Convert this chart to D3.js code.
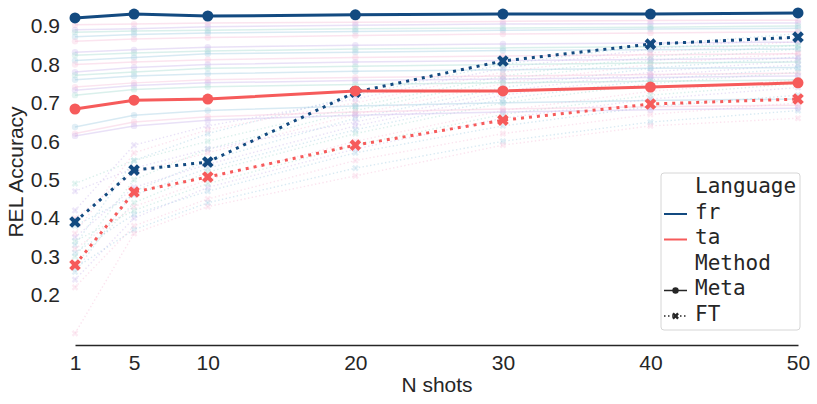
<!DOCTYPE html>
<html lang="en">
<head>
    <meta charset="UTF-8">
    <title>REL Accuracy vs N shots</title>
    <script src="https://d3js.org/d3.v7.min.js"></script>
    <style>
        body { margin: 0; background: #fff; }
        text { fill: #262626; }
    </style>
</head>
<body>
<svg width="817" height="404"></svg>

<script>
    // x values and tick labels
    const shots = [1, 5, 10, 20, 30, 40, 50];
    const yTicks = [0.2, 0.3, 0.4, 0.5, 0.6, 0.7, 0.8, 0.9];

    // highlighted languages
    const frMeta = [0.921, 0.931, 0.926, 0.929, 0.931, 0.931, 0.934];
    const frFT   = [0.390, 0.525, 0.546, 0.728, 0.809, 0.853, 0.871];
    const taMeta = [0.684, 0.707, 0.710, 0.731, 0.731, 0.741, 0.752];
    const taFT   = [0.278, 0.468, 0.507, 0.590, 0.655, 0.697, 0.710];

    // the other languages, drawn faintly behind
    const bgMeta = [
        [0.903, 0.905, 0.908, 0.910, 0.912, 0.914, 0.915],
        [0.890, 0.893, 0.898, 0.902, 0.905, 0.906, 0.908],
        [0.884, 0.887, 0.889, 0.893, 0.895, 0.897, 0.900],
        [0.872, 0.878, 0.882, 0.886, 0.889, 0.892, 0.894],
        [0.860, 0.866, 0.870, 0.875, 0.879, 0.882, 0.885],
        [0.832, 0.838, 0.845, 0.850, 0.853, 0.856, 0.858],
        [0.824, 0.830, 0.835, 0.840, 0.843, 0.846, 0.849],
        [0.810, 0.818, 0.828, 0.832, 0.836, 0.838, 0.840],
        [0.800, 0.806, 0.812, 0.818, 0.822, 0.825, 0.828],
        [0.780, 0.792, 0.800, 0.806, 0.810, 0.813, 0.816],
        [0.772, 0.780, 0.790, 0.795, 0.800, 0.804, 0.806],
        [0.760, 0.770, 0.776, 0.782, 0.786, 0.790, 0.792],
        [0.741, 0.752, 0.760, 0.766, 0.770, 0.774, 0.777],
        [0.733, 0.745, 0.752, 0.758, 0.762, 0.766, 0.770],
        [0.720, 0.735, 0.742, 0.748, 0.752, 0.756, 0.760],
        [0.637, 0.668, 0.680, 0.692, 0.700, 0.706, 0.710],
        [0.620, 0.650, 0.664, 0.676, 0.684, 0.690, 0.694],
        [0.614, 0.640, 0.655, 0.668, 0.676, 0.682, 0.686]
    ];
    const bgFT = [
        [0.33, 0.55, 0.62, 0.72, 0.80, 0.85, 0.88],
        [0.36, 0.57, 0.63, 0.70, 0.78, 0.83, 0.86],
        [0.42, 0.59, 0.64, 0.71, 0.79, 0.84, 0.87],
        [0.30, 0.50, 0.58, 0.68, 0.76, 0.81, 0.84],
        [0.26, 0.47, 0.55, 0.66, 0.74, 0.79, 0.82],
        [0.40, 0.52, 0.57, 0.67, 0.75, 0.80, 0.83],
        [0.35, 0.48, 0.54, 0.64, 0.72, 0.77, 0.80],
        [0.28, 0.44, 0.52, 0.62, 0.70, 0.75, 0.78],
        [0.38, 0.46, 0.53, 0.63, 0.71, 0.76, 0.79],
        [0.32, 0.43, 0.50, 0.60, 0.68, 0.73, 0.76],
        [0.24, 0.40, 0.48, 0.58, 0.66, 0.71, 0.74],
        [0.49, 0.55, 0.60, 0.69, 0.77, 0.82, 0.85],
        [0.31, 0.41, 0.47, 0.57, 0.64, 0.69, 0.72],
        [0.22, 0.38, 0.45, 0.55, 0.62, 0.67, 0.70],
        [0.47, 0.53, 0.58, 0.65, 0.73, 0.78, 0.81],
        [0.34, 0.42, 0.49, 0.59, 0.67, 0.72, 0.75],
        [0.27, 0.37, 0.44, 0.53, 0.60, 0.65, 0.68],
        [0.10, 0.36, 0.43, 0.51, 0.59, 0.64, 0.66]
    ];
    const bgColors = ["#9ecae1", "#f5bcd8", "#c7b3ea", "#a3d9cf"];

    const frColor = "#134a80", taColor = "#f65b5b";
    const font = "'Liberation Sans', Arial, sans-serif";
    const mono = "'DejaVu Sans Mono', monospace";
    const fs = 21;

    const svg = d3.select("svg");

    const x = d3.scaleLinear().domain([1, 50]).range([75, 798]);
    const y = d3.scaleLinear().domain([0.2, 0.9]).range([295, 26]);

    const line = d3.line()
        .x((d, i) => x(shots[i]))
        .y(d => y(d));

    const xMark = d3.symbol().type(d3.symbolCross);

    // faint background series
    const bg = svg.append("g");
    bgFT.forEach((s, k) => {
        bg.append("path").datum(s)
            .attr("d", line)
            .attr("fill", "none")
            .attr("stroke", bgColors[k % 4])
            .attr("stroke-width", 1.4)
            .attr("stroke-dasharray", "1.4,2.4")
            .attr("opacity", 0.4);
        bg.selectAll(null).data(s).enter().append("path")
            .attr("d", xMark.size(28)())
            .attr("transform", (d, i) => `translate(${x(shots[i])},${y(d)}) rotate(45)`)
            .attr("fill", bgColors[k % 4])
            .attr("opacity", 0.3);
    });
    bgMeta.forEach((s, k) => {
        bg.append("path").datum(s)
            .attr("d", line)
            .attr("fill", "none")
            .attr("stroke", bgColors[(k + 1) % 4])
            .attr("stroke-width", 1.5)
            .attr("opacity", 0.4);
        bg.selectAll(null).data(s).enter().append("circle")
            .attr("cx", (d, i) => x(shots[i]))
            .attr("cy", d => y(d))
            .attr("r", 3.2)
            .attr("fill", bgColors[(k + 1) % 4])
            .attr("opacity", 0.3);
    });

    // axes
    const xAxis = svg.append("g")
        .attr("transform", "translate(0,345)")
        .call(d3.axisBottom(x).tickValues(shots).tickFormat(d3.format("d")).tickSize(0).tickPadding(10));
    xAxis.select(".domain").attr("stroke", "#262626").attr("stroke-width", 1.4);
    xAxis.selectAll("text").attr("font-family", font).attr("font-size", fs).attr("fill", "#262626");

    const yAxis = svg.append("g")
        .attr("transform", "translate(75,0)")
        .call(d3.axisLeft(y).tickValues(yTicks).tickFormat(d3.format(".1f")).tickSize(0).tickPadding(15));
    yAxis.select(".domain").remove();
    yAxis.selectAll("text").attr("font-family", font).attr("font-size", fs).attr("fill", "#262626");

    svg.append("text")
        .attr("transform", "translate(23,172) rotate(-90)")
        .attr("text-anchor", "middle")
        .attr("font-family", font).attr("font-size", fs)
        .text("REL Accuracy");
    svg.append("text")
        .attr("x", 437).attr("y", 392)
        .attr("text-anchor", "middle")
        .attr("font-family", font).attr("font-size", fs)
        .text("N shots");

    // highlighted series: FT dotted first, Meta on top
    const main = svg.append("g");
    [[frFT, frColor], [taFT, taColor]].forEach(([s, c]) => {
        main.append("path").datum(s)
            .attr("d", line)
            .attr("fill", "none")
            .attr("stroke", c)
            .attr("stroke-width", 3)
            .attr("stroke-dasharray", "3,5");
        main.selectAll(null).data(s).enter().append("path")
            .attr("d", xMark.size(85)())
            .attr("transform", (d, i) => `translate(${x(shots[i])},${y(d)}) rotate(45)`)
            .attr("fill", c);
    });
    [[frMeta, frColor], [taMeta, taColor]].forEach(([s, c]) => {
        main.append("path").datum(s)
            .attr("d", line)
            .attr("fill", "none")
            .attr("stroke", c)
            .attr("stroke-width", 3);
        main.selectAll(null).data(s).enter().append("circle")
            .attr("cx", (d, i) => x(shots[i]))
            .attr("cy", d => y(d))
            .attr("r", 5.5)
            .attr("fill", c);
    });

    // legend
    const legend = svg.append("g");
    legend.append("rect")
        .attr("x", 661).attr("y", 173)
        .attr("width", 139).attr("height", 157)
        .attr("rx", 3)
        .attr("fill", "#fff").attr("fill-opacity", 0.8)
        .attr("stroke", "#d6d6d6");

    const items = [
        {label: "Language"},
        {label: "fr", color: frColor},
        {label: "ta", color: taColor},
        {label: "Method"},
        {label: "Meta", color: "#262626", marker: "o"},
        {label: "FT", color: "#262626", marker: "x", dash: "1.5,2.5"}
    ];
    items.forEach((it, i) => {
        const by = 193 + i * 25.5;
        legend.append("text")
            .attr("x", 695).attr("y", by)
            .attr("font-family", mono).attr("font-size", fs)
            .text(it.label);
        if (!it.color) return;
        const ly = by - 4.5;
        legend.append("line")
            .attr("x1", 664).attr("x2", 687)
            .attr("y1", ly).attr("y2", ly)
            .attr("stroke", it.color)
            .attr("stroke-width", it.marker ? 1.5 : 2)
            .attr("stroke-dasharray", it.dash || null);
        if (it.marker === "o") {
            legend.append("circle").attr("cx", 675.5).attr("cy", ly).attr("r", 3.2).attr("fill", it.color);
        } else if (it.marker === "x") {
            legend.append("path")
                .attr("d", xMark.size(30)())
                .attr("transform", `translate(675.5,${ly}) rotate(45)`)
                .attr("fill", it.color);
        }
    });
</script>
</body>
</html>
